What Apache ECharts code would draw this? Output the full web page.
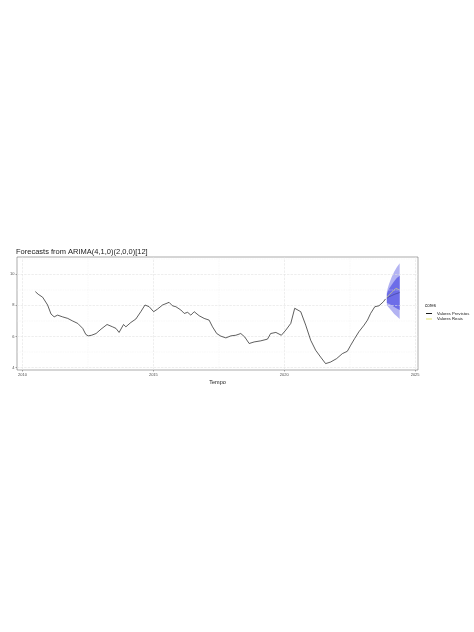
<!DOCTYPE html>
<html>
<head>
<meta charset="utf-8">
<script src="https://cdn.jsdelivr.net/npm/echarts@6/dist/echarts.min.js"></script>
<style>
html,body{margin:0;padding:0;background:#fff;}
#c{width:474px;height:632px;}
</style>
</head>
<body>
<div id="c"></div>
<script>
// ---- data ----
const histYears = [2010.49,2010.60,2010.77,2010.96,2011.09,2011.21,2011.34,2011.53,2011.73,2011.92,2012.11,2012.30,2012.42,2012.51,2012.64,2012.81,2013.00,2013.23,2013.44,2013.57,2013.69,2013.86,2013.95,2014.14,2014.33,2014.52,2014.68,2014.84,2015.01,2015.16,2015.35,2015.60,2015.73,2015.86,2016.05,2016.18,2016.31,2016.43,2016.56,2016.75,2016.94,2017.13,2017.26,2017.42,2017.58,2017.77,2017.96,2018.15,2018.34,2018.49,2018.66,2018.85,2019.10,2019.36,2019.48,2019.68,2019.89,2020.06,2020.25,2020.40,2020.45,2020.63,2020.82,2021.01,2021.20,2021.39,2021.58,2021.77,2022.00,2022.22,2022.41,2022.54,2022.69,2022.85,2023.05,2023.18,2023.30,2023.46,2023.62,2023.79,2023.87];
const histValues = [8.88,8.71,8.52,8.02,7.44,7.26,7.37,7.26,7.16,6.99,6.84,6.52,6.13,6.04,6.08,6.19,6.47,6.77,6.62,6.52,6.26,6.77,6.62,6.90,7.12,7.59,8.02,7.91,7.59,7.76,8.02,8.19,7.97,7.91,7.70,7.48,7.55,7.37,7.59,7.33,7.16,7.05,6.62,6.19,6.02,5.91,6.04,6.08,6.19,5.97,5.55,5.65,5.72,5.83,6.19,6.26,6.08,6.41,6.84,7.81,7.91,7.59,6.73,5.76,5.12,4.68,4.26,4.36,4.58,4.90,5.05,5.44,5.87,6.30,6.73,7.05,7.48,7.91,7.97,8.23,8.41];

const fcYears = [2023.92,2024.00,2024.10,2024.20,2024.30,2024.41];
const fcMean  = [8.45,8.55,8.62,8.70,8.76,8.82];
const lo80    = [8.15,8.10,8.00,7.90,7.80,7.70];
const hi80    = [8.75,9.05,9.30,9.55,9.75,9.90];
const lo95    = [8.00,7.85,7.65,7.45,7.30,7.12];
const hi95    = [8.90,9.35,9.80,10.15,10.45,10.70];

const realYears  = [2023.92,2024.02,2024.14,2024.27,2024.39];
const realValues = [8.50,8.70,8.88,9.10,8.99];

const xTicks = [2010,2015,2020,2025];
const xMinor = [2012.5,2017.5,2022.5];
const yTicks = [4,6,8,10];
const yMinor = [5,7,9,11];

const titleText = 'Forecasts from ARIMA(4,1,0)(2,0,0)[12]';
const xName = 'Tempo';
const yName = 'Inadimplência - Cartão de Crédito - PF';
const legendTitle = 'cores';
const nameHist = 'Valores Previstos';
const nameReal = 'Valores Reais';

// ---- build ----
const zip = (a,b) => a.map((v,i)=>[v,b[i]]);

const gridLines = [];
xTicks.forEach(v=>gridLines.push({xAxis:v, lineStyle:{color:'#e3e3e3',width:0.6}}));
xMinor.forEach(v=>gridLines.push({xAxis:v, lineStyle:{color:'#f0f0f0',width:0.4}}));
yTicks.forEach(v=>gridLines.push({yAxis:v, lineStyle:{color:'#e3e3e3',width:0.6}}));
yMinor.forEach(v=>gridLines.push({yAxis:v, lineStyle:{color:'#f0f0f0',width:0.4}}));

function bandSeries(lo, hi, color, z){
  return {
    type:'custom', silent:true, z:z,
    data: fcYears.map((t,i)=>[t, lo[i], hi[i]]),
    encode:{x:0, y:[1,2]},
    renderItem:function(params, api){
      if (params.dataIndex !== 0) return null;
      const top = fcYears.map((t,i)=>api.coord([t, hi[i]]));
      const bot = fcYears.map((t,i)=>api.coord([t, lo[i]])).reverse();
      return {type:'polygon', shape:{points: top.concat(bot)}, style:{fill:color}};
    }
  };
}

const font = 'Liberation Sans, Arial, sans-serif';
const chart = echarts.init(document.getElementById('c'), null, {renderer:'canvas'});
chart.setOption({
  animation:false,
  backgroundColor:'#fff',
  title:[
    {text:titleText, left:16, top:248, padding:0, textStyle:{fontSize:7.5, fontWeight:'normal', color:'#1a1a1a', fontFamily:font}},
    {text:legendTitle, left:425, top:303.5, padding:0, textStyle:{fontSize:4.5, fontWeight:'normal', color:'#1a1a1a', fontFamily:font}}
  ],
  legend:{
    data:[{name:nameHist, icon:'rect'},{name:nameReal, icon:'rect'}], orient:'vertical', left:426, top:311.5,
    padding:0, itemWidth:6, itemHeight:1, itemGap:1.5,
    textStyle:{fontSize:4.2, color:'#1a1a1a', fontFamily:font}
  },
  grid:{left:17, top:257, right:56, bottom:262, outerBoundsMode:'none', containLabel:false,
        show:true, borderColor:'#555', borderWidth:0.5, backgroundColor:'transparent'},
  xAxis:{
    type:'value', min:2009.79, max:2025.11,
    name:xName, nameLocation:'middle', nameGap:9,
    nameTextStyle:{fontSize:5.5, color:'#1a1a1a', fontFamily:font},
    axisLine:{show:false}, splitLine:{show:false},
    axisTick:{show:true, customValues:xTicks, length:1.5, lineStyle:{color:'#555',width:0.5}},
    axisLabel:{customValues:xTicks, fontSize:4, color:'#4d4d4d', margin:2.5, fontFamily:font, formatter:v=>String(v)}
  },
  yAxis:{
    type:'value', min:3.85, max:11.1,
    name:yName, nameLocation:'middle', nameGap:10, nameRotate:90,
    nameTextStyle:{fontSize:5, color:'#1a1a1a', fontFamily:font},
    axisLine:{show:false}, splitLine:{show:false},
    axisTick:{show:true, customValues:yTicks, length:1.5, lineStyle:{color:'#555',width:0.5}},
    axisLabel:{customValues:yTicks, fontSize:4, color:'#4d4d4d', margin:2.5, fontFamily:font, formatter:v=>String(v)}
  },
  series:[
    {type:'line', name:'_grid', data:[[2010,null]], z:0, silent:true, symbol:'none', lineStyle:{width:0},
     markLine:{silent:true, symbol:'none', label:{show:false}, animation:false, data:gridLines}},
    bandSeries(lo95, hi95, '#b3b3f2', 2),
    bandSeries(lo80, hi80, '#6d6de8', 3),
    {type:'line', name:'_mean', data:zip(fcYears,fcMean), symbol:'none', lineStyle:{width:0.6,color:'#3a3a8c'}, z:4, silent:true},
    {type:'line', name:nameHist, data:zip(histYears,histValues), symbol:'none', color:'#1a1a1a', lineStyle:{width:0.7,color:'#1a1a1a'}, z:5},
    {type:'line', name:nameReal, data:zip(realYears,realValues), symbol:'none', color:'#e3e36a', lineStyle:{width:0.6,color:'#e3e36a'}, z:5}
  ]
});
</script>
</body>
</html>
